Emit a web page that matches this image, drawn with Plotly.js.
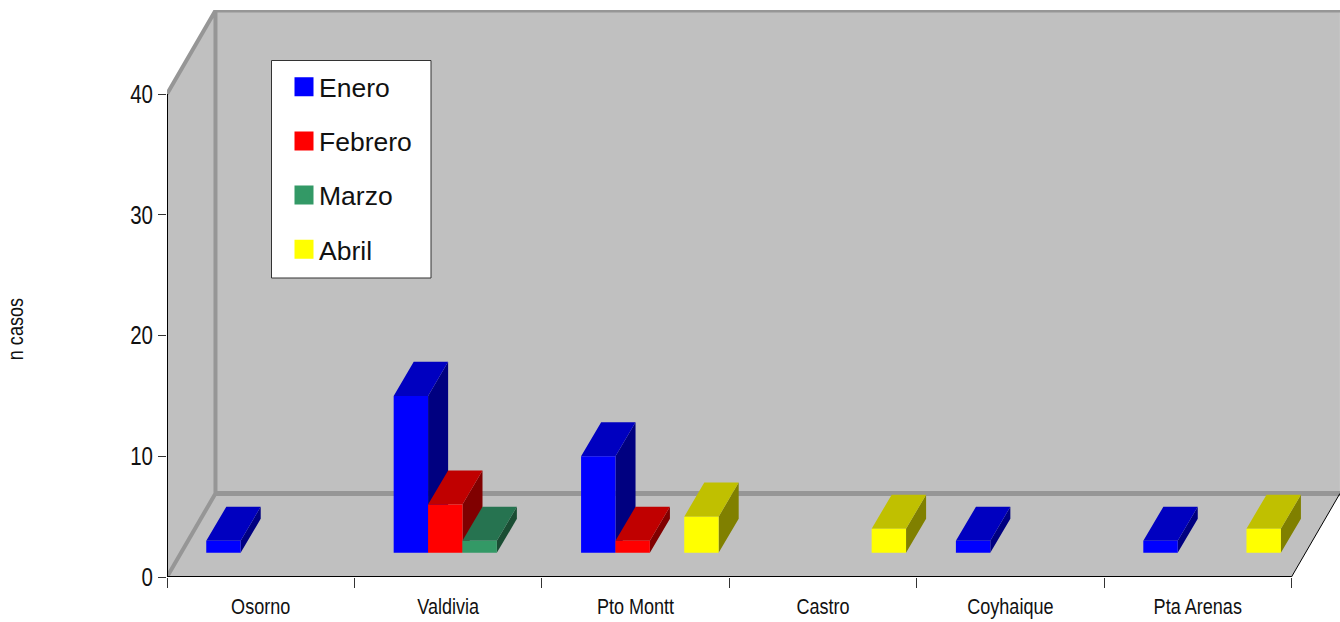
<!DOCTYPE html>
<html><head><meta charset="utf-8">
<script src="https://cdn.plot.ly/plotly-3.0.1.min.js"></script>
<style>html,body{margin:0;padding:0;background:#fff}#c{width:1340px;height:622px}</style>
</head><body><div id="c"></div>
<script>
const categories = ['Osorno','Valdivia','Pto Montt','Castro','Coyhaique','Pta Arenas'];
const enero   = [1,13,8,0,1,1];
const febrero = [0,4,1,0,0,0];
const marzo   = [0,1,0,0,0,0];
const abril   = [0,0,3,2,0,2];
const seriesNames = ['Enero','Febrero','Marzo','Abril'];
const frontColors = ['#0000FF','#FF0000','#339966','#FFFF00'];
const topColors   = ['#0000C0','#C00000','#267350','#C0C000'];
const sideColors  = ['#000080','#800000','#1A4D33','#808000'];
const yTicks = [0,10,20,30,40];

// chart geometry in axis units
const W = 1173, H = 567;
const xMax = 6.259, yMax = 46.96;
const wallDx = 0.2587, wallDy = 6.92;   // depth of the floor
const barBase = 2.0, barStart = 0.2095, barW = 0.1835;
const barDx = 0.107, barDy = 2.82;      // depth of a bar

const sans = '"Liberation Sans",Arial,sans-serif';
const allSeries = [enero,febrero,marzo,abril];
const traces = [];

// black front edges of the box
traces.push({x:[0,0,6],y:[40,0,0],mode:'lines',line:{color:'#000',width:2},
  cliponaxis:false,showlegend:false,hoverinfo:'skip'});
traces.push({x:[6,6+wallDx],y:[0,wallDy],mode:'lines',line:{color:'#000',width:1},
  cliponaxis:false,showlegend:false,hoverinfo:'skip'});

allSeries.forEach((vals,j)=>{
  const side={x:[],y:[]},top={x:[],y:[]},front={x:[],y:[]};
  vals.forEach((v,i)=>{
    if(!v) return;
    const l=i+barStart+j*barW, r=l+barW, b=barBase, t=barBase+v;
    front.x.push(l,r,r,l,l,null); front.y.push(b,b,t,t,b,null);
    top.x.push(l,r,r+barDx,l+barDx,l,null); top.y.push(t,t,t+barDy,t+barDy,t,null);
    side.x.push(r,r+barDx,r+barDx,r,r,null); side.y.push(b,b+barDy,t+barDy,t,b,null);
  });
  [[side,sideColors[j]],[top,topColors[j]],[front,frontColors[j]]].forEach(([p,c])=>{
    traces.push({x:p.x,y:p.y,mode:'lines',fill:'toself',fillcolor:c,line:{width:0,color:c},
      showlegend:false,hoverinfo:'skip',name:seriesNames[j]});
  });
});
// legend entries
seriesNames.forEach((n,j)=>{
  traces.push({x:[null],y:[null],mode:'markers',name:n,legendgroup:n,
    marker:{symbol:'square',size:15,color:frontColors[j],line:{color:frontColors[j],width:4}}});
});

const wall='#C0C0C0', edge='#969696';
const poly=(pts)=>'M'+pts.map(p=>p[0]+' '+p[1]).join(' L')+' Z';
const shapes=[
  {type:'path',path:poly([[0,0],[6,0],[6+wallDx,wallDy],[wallDx,wallDy]]),fillcolor:wall,line:{width:0},layer:'below'},
  {type:'path',path:poly([[0,0],[wallDx,wallDy],[wallDx,40+wallDy],[0,40]]),fillcolor:wall,line:{width:0},layer:'below'},
  {type:'path',path:poly([[wallDx,wallDy],[6+wallDx,wallDy],[6+wallDx,40+wallDy],[wallDx,40+wallDy]]),fillcolor:wall,line:{width:0},layer:'below'},
  {type:'path',path:'M0 0 L'+wallDx+' '+wallDy+' L'+wallDx+' '+(40+wallDy)+' L0 40',line:{color:edge,width:4},layer:'below'},
  {type:'path',path:'M'+wallDx+' '+wallDy+' L'+xMax+' '+wallDy,line:{color:edge,width:5},layer:'below'},
  {type:'path',path:'M'+wallDx+' '+(40+wallDy)+' L'+xMax+' '+(40+wallDy),line:{color:edge,width:4},layer:'below'},
  // legend box
  {type:'rect',xref:'paper',yref:'paper',x0:104.5/W,x1:264/W,y0:(577-278)/H,y1:(577-60.5)/H,
    fillcolor:'#fff',line:{color:'#333',width:1},layer:'above'}
];

const layout={
  width:1340,height:622,margin:{l:167,r:0,t:10,b:45},
  paper_bgcolor:'#fff',plot_bgcolor:'rgba(0,0,0,0)',
  font:{family:sans,color:'#111',size:22},
  showlegend:true,
  legend:{x:117/W,xanchor:'left',y:514/H,yanchor:'top',bgcolor:'rgba(0,0,0,0)',borderwidth:0,
    font:{family:sans,size:26.5,color:'#111'},
    itemsizing:'trace',itemwidth:30,tracegroupgap:16.7,itemclick:false,itemdoubleclick:false},
  xaxis:{range:[0,xMax],tickmode:'array',tickvals:categories.map((c,i)=>i+0.5),ticktext:categories,
    ticks:'',showgrid:false,zeroline:false,showline:false,tickfont:{family:sans,size:22,color:'#111'},
    ticklabelstandoff:14,
    minor:{tickmode:'array',tickvals:[0,1,2,3,4,5,6],ticks:'outside',ticklen:10,tickwidth:1,tickcolor:'#333',showgrid:false}},
  yaxis:{range:[0,yMax],tickmode:'array',tickvals:yTicks,ticks:'outside',ticklen:8,tickwidth:1,tickcolor:'#333',
    showgrid:false,zeroline:false,showline:false,tickfont:{family:sans,size:25,color:'#111'}},
  shapes:shapes,
  annotations:[{text:'n casos',xref:'paper',yref:'paper',x:-152/W,y:(577-329)/H,xanchor:'center',yanchor:'middle',
    textangle:-90,showarrow:false,font:{family:sans,size:22,color:'#111'}}]
};
Plotly.newPlot('c',traces,layout,{displayModeBar:false,responsive:false}).then(gd=>{
  // the reference uses a condensed face: narrow the glyphs of axis text
  gd.querySelectorAll('.xtick text, .ytick text, .annotation-text').forEach(t=>{
    t.setAttribute('lengthAdjust','spacingAndGlyphs');
    t.setAttribute('textLength',(t.getComputedTextLength()*0.82).toFixed(1));
  });
  gd.querySelectorAll('.legendtext').forEach(t=>{
    t.setAttribute('x',parseFloat(t.getAttribute('x'))-5);
  });
});
</script></body></html>
